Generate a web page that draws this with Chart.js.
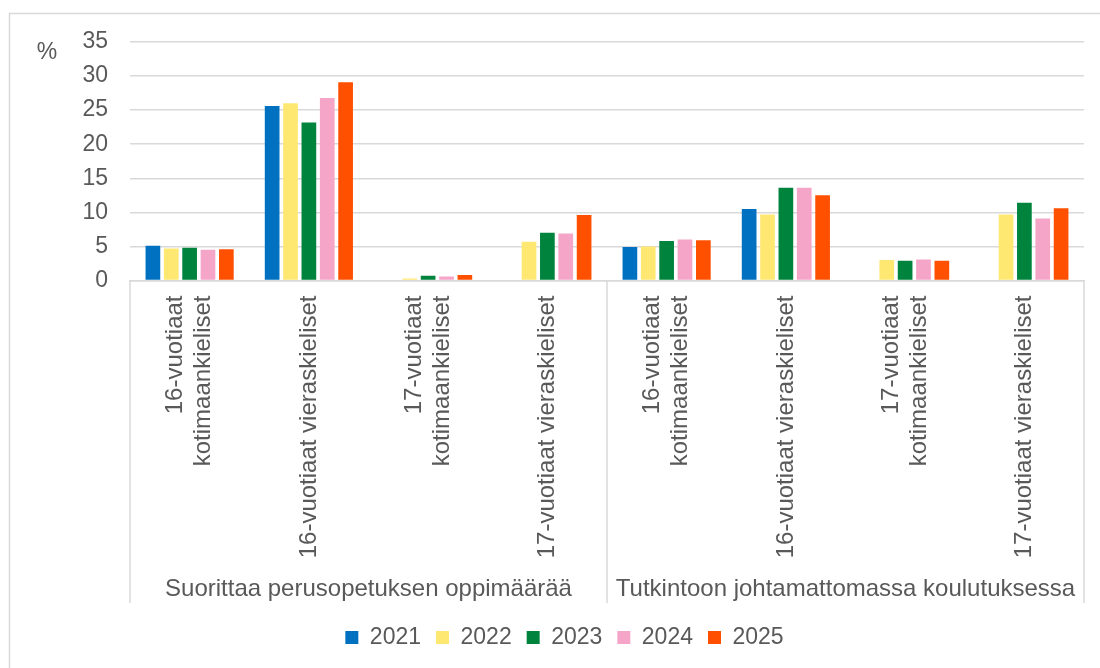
<!DOCTYPE html>
<html>
<head>
<meta charset="utf-8">
<script src="https://cdn.jsdelivr.net/npm/chart.js@4.4.1/dist/chart.umd.min.js"></script>
<style>
  html, body { margin: 0; padding: 0; background: #fff; overflow: hidden; }
  #wrap { width: 1100px; height: 668px; }
</style>
</head>
<body>
<div id="wrap"><canvas id="chart"></canvas></div>
<script>
// categories (two lines where the label wraps)
const categories = [
    ['16-vuotiaat', 'kotimaankieliset'],
    ['16-vuotiaat vieraskieliset'],
    ['17-vuotiaat', 'kotimaankieliset'],
    ['17-vuotiaat vieraskieliset'],
    ['16-vuotiaat', 'kotimaankieliset'],
    ['16-vuotiaat vieraskieliset'],
    ['17-vuotiaat', 'kotimaankieliset'],
    ['17-vuotiaat vieraskieliset']
];
const groups = ['Suorittaa perusopetuksen oppimäärää', 'Tutkintoon johtamattomassa koulutuksessa'];
const years = ['2021', '2022', '2023', '2024', '2025'];

const v2021 = [5.1, 25.6, null, null, 4.9, 10.5, null, null];
const v2022 = [4.7, 26.0, 0.3, 5.7, 5.0, 9.7, 3.0, 9.7];
const v2023 = [4.8, 23.2, 0.7, 7.0, 5.8, 13.6, 2.9, 11.4];
const v2024 = [4.5, 26.8, 0.6, 6.9, 6.0, 13.6, 3.1, 9.1];
const v2025 = [4.6, 29.1, 0.8, 9.6, 5.9, 12.5, 2.9, 10.6];

const colors = ['#0070C0', '#FFE872', '#00843D', '#F4A5C8', '#FF5000'];
const seriesValues = [v2021, v2022, v2023, v2024, v2025];

const FONT = '"Liberation Sans", Arial, sans-serif';
const TEXT = '#595959';
const GRID = '#d9d9d9';

// extra drawing: frame, separators, rotated category labels, group labels, unit
const extras = {
    id: 'extras',
    beforeDraw(chart) {
        const ctx = chart.ctx;
        ctx.save();
        ctx.strokeStyle = GRID;
        ctx.lineWidth = 1.5;
        ctx.strokeRect(9.5, 13.5, 1300, 900);
        ctx.restore();
    },
    afterDraw(chart) {
        const ctx = chart.ctx;
        const xs = chart.scales.x;
        const top = xs.top;
        const mid = (xs.getPixelForValue(3) + xs.getPixelForValue(4)) / 2;

        ctx.save();
        ctx.strokeStyle = GRID;
        ctx.lineWidth = 1.5;
        [xs.left, mid, xs.right].forEach(px => {
            ctx.beginPath();
            ctx.moveTo(px, top);
            ctx.lineTo(px, 603);
            ctx.stroke();
        });

        ctx.fillStyle = TEXT;
        ctx.font = '24px ' + FONT;

        // category labels, rotated
        categories.forEach((lines, i) => {
            const cx = xs.getPixelForValue(i);
            const lh = 28;
            lines.forEach((line, j) => {
                const lx = cx + (j - (lines.length - 1) / 2) * lh;
                ctx.save();
                ctx.translate(lx, top + 15);
                ctx.rotate(-Math.PI / 2);
                ctx.textAlign = 'right';
                ctx.textBaseline = 'middle';
                ctx.fillText(line, 0, 0);
                ctx.restore();
            });
        });

        // group labels
        ctx.textAlign = 'center';
        ctx.textBaseline = 'alphabetic';
        ctx.fillText(groups[0], (xs.left + mid) / 2, 596);
        ctx.fillText(groups[1], (mid + xs.right) / 2, 596);

        // unit
        ctx.font = '23px ' + FONT;
        ctx.textBaseline = 'middle';
        ctx.fillText('%', 47, 53);
        ctx.restore();
    }
};

new Chart(document.getElementById('chart'), {
    type: 'bar',
    data: {
        labels: categories,
        datasets: years.map((y, i) => ({
            label: y,
            data: seriesValues[i],
            backgroundColor: colors[i],
            borderWidth: 0,
            barPercentage: 0.8,
            categoryPercentage: 0.77
        }))
    },
    options: {
        responsive: true,
        maintainAspectRatio: false,
        animation: false,
        layout: { padding: { left: 45, right: 16, top: 42, bottom: 9 } },
        scales: {
            x: {
                grid: { display: false, drawTicks: false },
                border: { display: true, color: GRID, width: 1.5 },
                ticks: { display: false },
                afterFit: s => { s.height = 330.5; }
            },
            y: {
                min: 0,
                max: 35,
                ticks: {
                    stepSize: 5,
                    padding: 22,
                    color: TEXT,
                    font: { family: FONT, size: 23 }
                },
                grid: { color: GRID, lineWidth: 1.5, drawTicks: false },
                border: { display: false },
                afterFit: s => { s.width = 85; }
            }
        },
        plugins: {
            legend: {
                position: 'bottom',
                labels: {
                    color: TEXT,
                    font: { family: FONT, size: 23 },
                    boxWidth: 13,
                    boxHeight: 13,
                    padding: 15
                }
            },
            tooltip: { enabled: false }
        }
    },
    plugins: [extras]
});
</script>
</body>
</html>
